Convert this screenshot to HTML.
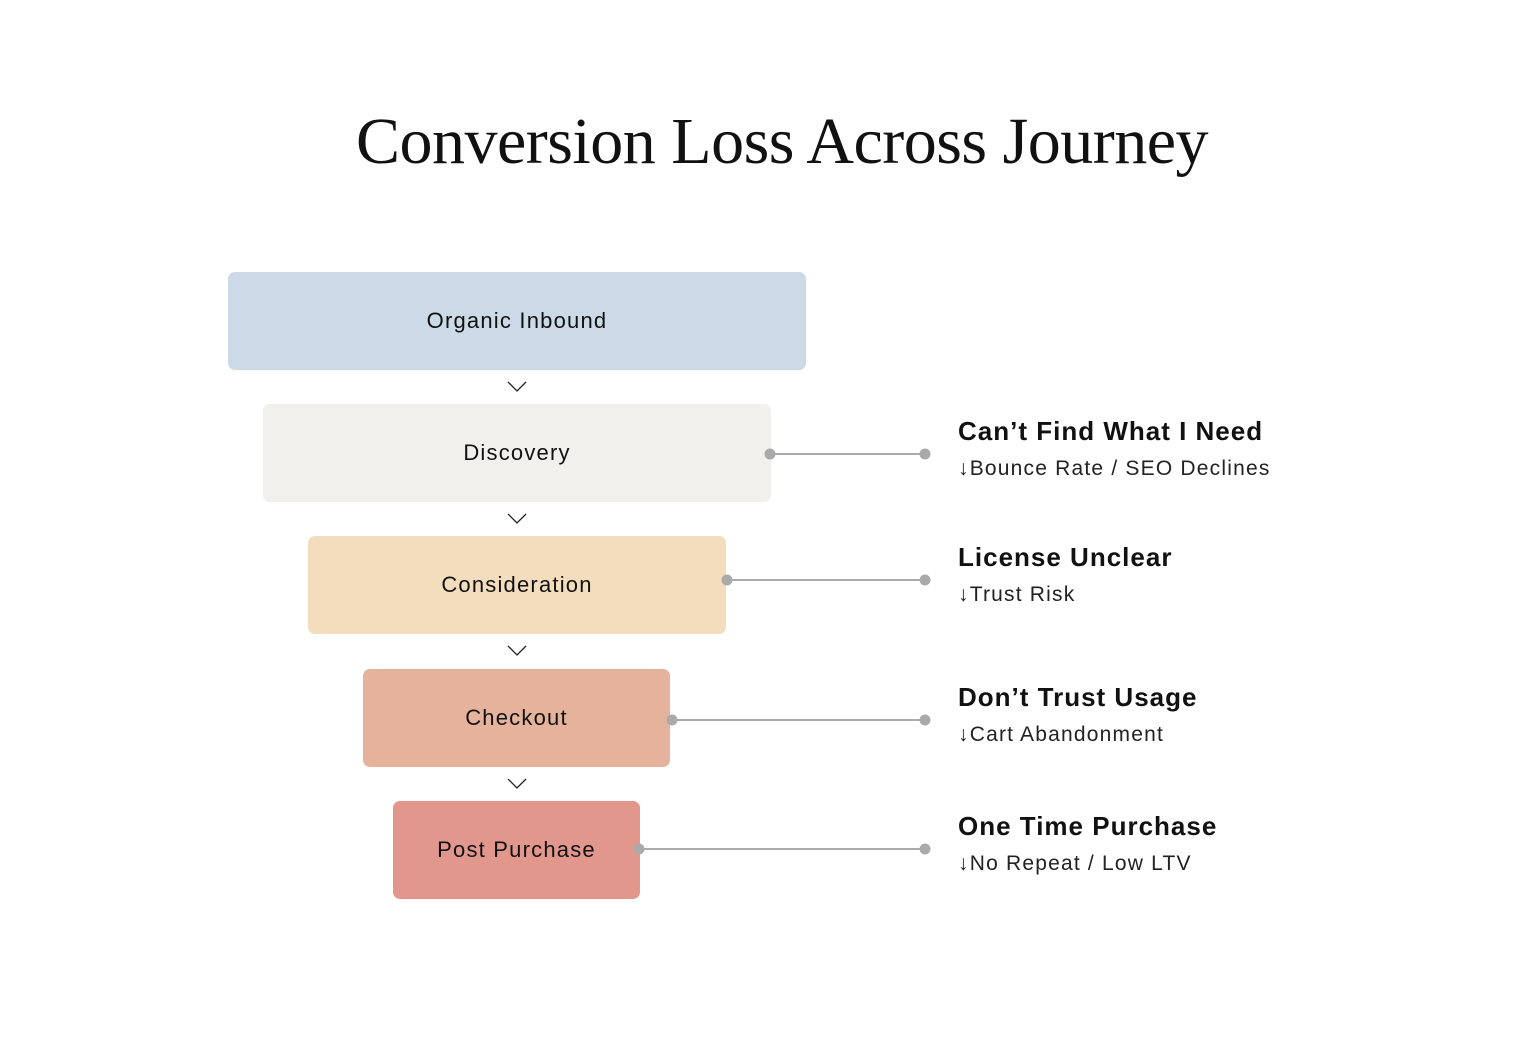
<!DOCTYPE html>
<html><head><style>
body{margin:0;width:1536px;height:1055px;background:#fff;position:relative;overflow:hidden;font-family:"Liberation Sans",sans-serif;}
.t{position:absolute;left:0;width:1564px;text-align:center;top:104px;font-family:"Liberation Serif",serif;font-size:66px;color:#111;letter-spacing:-0.5px;}
.b{position:absolute;height:98px;border-radius:7px;display:flex;align-items:center;justify-content:center;font-size:22px;letter-spacing:1.2px;color:#111;}
.h{position:absolute;left:958px;font-size:26px;font-weight:bold;letter-spacing:1px;color:#111;}
.s{position:absolute;left:958px;font-size:21px;letter-spacing:1.2px;color:#222;}
</style></head><body>
<div class="t">Conversion Loss Across Journey</div>
<div class="b" style="left:228px;top:272px;width:578px;background:#cbdae6">Organic Inbound</div>
<div class="b" style="left:263px;top:404px;width:508px;background:#f1f0ec">Discovery</div>
<div class="b" style="left:308px;top:536px;width:418px;background:#f4ddbc">Consideration</div>
<div class="b" style="left:363px;top:669px;width:307px;background:#e5b39b">Checkout</div>
<div class="b" style="left:393px;top:801px;width:247px;background:#e2978d">Post Purchase</div>
<svg width="1536" height="1055" style="position:absolute;left:0;top:0">
<g fill="none" stroke="#222" stroke-width="1.3">
<polyline points="508,382 517,391 526,382"/>
<polyline points="508,514 517,523 526,514"/>
<polyline points="508,646 517,655 526,646"/>
<polyline points="508,779 517,788 526,779"/>
</g>
<g stroke="#aaa" stroke-width="2" fill="#aaa">
<line x1="770" y1="454" x2="925" y2="454"/><circle cx="770" cy="454" r="4.5"/><circle cx="925" cy="454" r="4.5"/>
<line x1="727" y1="580" x2="925" y2="580"/><circle cx="727" cy="580" r="4.5"/><circle cx="925" cy="580" r="4.5"/>
<line x1="672" y1="720" x2="925" y2="720"/><circle cx="672" cy="720" r="4.5"/><circle cx="925" cy="720" r="4.5"/>
<line x1="639" y1="849" x2="925" y2="849"/><circle cx="639" cy="849" r="4.5"/><circle cx="925" cy="849" r="4.5"/>
</g></svg>
<div class="h" style="top:416px">Can’t Find What I Need</div>
<div class="s" style="top:457px">↓Bounce Rate / SEO Declines</div>
<div class="h" style="top:542px">License Unclear</div>
<div class="s" style="top:583px">↓Trust Risk</div>
<div class="h" style="top:682px">Don’t Trust Usage</div>
<div class="s" style="top:723px">↓Cart Abandonment</div>
<div class="h" style="top:811px">One Time Purchase</div>
<div class="s" style="top:852px">↓No Repeat / Low LTV</div>
</body></html>
